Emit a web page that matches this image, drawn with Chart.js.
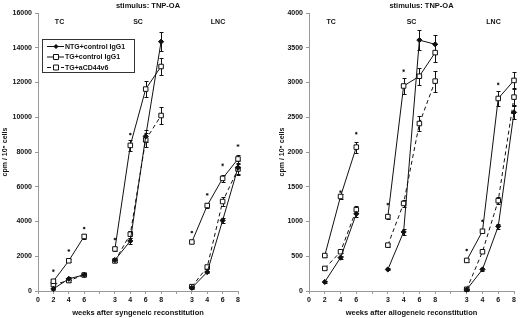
<!DOCTYPE html>
<html lang="en">
<head>
  <meta charset="UTF-8">
  <title>stimulus: TNP-OA</title>
  <script src="https://cdn.jsdelivr.net/npm/chart.js@4.4.1/dist/chart.umd.min.js"></script>
  <style>
    * { margin: 0; padding: 0; }
    body { background: #fff; width: 520px; height: 318px; overflow: hidden; }
    .panel { position: absolute; top: 0; width: 260px; height: 318px; }
    #left { left: 0; }
    #right { left: 260px; }
  </style>
</head>
<body>
  <div class="panel" id="left"><canvas id="syn" width="260" height="318"></canvas></div>
  <div class="panel" id="right"><canvas id="allo" width="260" height="318"></canvas></div>

  <script>
    // x axis: one slot per tick, blank slots between the groups
    const tickLabels = ['0', '2', '4', '6', '', '3', '4', '6', '8', '', '3', '4', '6', '8'];
    const groupNames = ['TC', 'SC', 'LNC'];
    const groupPos = [1.4, 6.5, 11.7];
    // TC weeks 2,4,6 / SC weeks 3,4,6,8 / LNC weeks 3,4,6,8
    const weekIdx = [1, 2, 3, 5, 6, 7, 8, 10, 11, 12, 13];
    const seriesNames = ['NTG+control IgG1', 'TG+control IgG1', 'TG+aCD44v6'];

    // syngeneic reconstitution (left)
    const synNTG    = [120, 700, 930,   1780, 2880, 8900, 14350,   180, 1090, 4060, 7100];
    const synTGctl  = [560, 1740, 3140, 2420, 8380, 11620, 12920,  2820, 4920, 6480, 7600];
    const synTGcd44 = [370, 600, 920,   1730, 3270, 8700, 10100,   250, 1380, 5150, 7020];
    const synErrNTG    = [60, 80, 60,   100, 150, 350, 550,  50, 80, 150, 400];
    const synErrTGctl  = [80, 80, 120,  120, 300, 450, 500,  80, 120, 200, 250];
    const synErrTGcd44 = [60, 60, 80,   80, 200, 400, 500,   50, 100, 250, 300];
    const synStarX = [1, 2, 3, 5, 6, 10, 11, 12, 13];
    const synStarY = [1170, 2330, 3620, 2990, 9030, 3390, 5560, 7260, 8370];

    // allogeneic reconstitution (right)
    const alloNTG    = [130, 480, 1110,  310, 850, 3610, 3550,   20, 310, 930, 2570];
    const alloTGctl  = [510, 1360, 2070, 1070, 2950, 3090, 3430, 440, 860, 2770, 3030];
    const alloTGcd44 = [325, 565, 1170,  660, 1260, 2410, 3020,  25, 565, 1300, 2790];
    const alloErrNTG    = [15, 20, 40,  15, 40, 140, 130,  10, 20, 40, 100];
    const alloErrTGctl  = [15, 40, 80,  30, 120, 120, 130, 20, 30, 110, 120];
    const alloErrTGcd44 = [15, 20, 50,  20, 50, 110, 150,  10, 20, 50, 130];
    const alloStarX = [2, 3, 5, 6, 10, 11, 12];
    const alloStarY = [1430, 2270, 1250, 3170, 590, 1010, 2980];

    const FONT = 'Liberation Sans, Arial, sans-serif';
    const INK = '#111';

    function buildSeries(vals, errs) {
      const pts = [], e = [];
      weekIdx.forEach((x, i) => {
        if (i > 0 && x - weekIdx[i - 1] > 1) { pts.push({x: x - 1, y: null}); e.push(null); }
        pts.push({x: x, y: vals[i]});
        e.push(errs[i]);
      });
      return {pts, e};
    }

    const styles = [
      {pointStyle: 'rectRot', pointRadius: 2.6, pointBackgroundColor: INK, borderDash: []},
      {pointStyle: 'rect', pointRadius: 3.2, pointBackgroundColor: '#fff', borderDash: []},
      {pointStyle: 'rect', pointRadius: 3.2, pointBackgroundColor: '#fff', borderDash: [4, 3]}
    ];

    function makeDatasets(vals, errs, starX, starY) {
      const sets = vals.map((v, k) => {
        const s = buildSeries(v, errs[k]);
        return Object.assign({
          label: seriesNames[k],
          data: s.pts,
          errors: s.e,
          borderColor: INK,
          borderWidth: 1,
          pointBorderColor: INK,
          pointBorderWidth: 1,
          spanGaps: false,
          tension: 0,
          clip: false
        }, styles[k]);
      });
      sets.push({
        label: 'p',
        data: starX.map((x, i) => ({x: x, y: starY[i]})),
        showLine: false,
        pointStyle: 'star',
        pointRadius: 1.3,
        borderColor: INK,
        borderWidth: 0.8,
        clip: false
      });
      return sets;
    }

    // error bars, drawn under the markers
    const errorBars = {
      id: 'errorBars',
      beforeDatasetsDraw(chart) {
        const ctx = chart.ctx, ys = chart.scales.y;
        ctx.save();
        ctx.strokeStyle = INK;
        ctx.lineWidth = 1;
        chart.data.datasets.forEach((ds, di) => {
          if (!ds.errors) return;
          chart.getDatasetMeta(di).data.forEach((pt, i) => {
            const e = ds.errors[i], v = ds.data[i].y;
            if (!e || v == null) return;
            const t = Math.round(ys.getPixelForValue(v + e)) + 0.5;
            const b = Math.round(ys.getPixelForValue(v - e)) + 0.5;
            const x = Math.round(pt.x) + 0.5;
            ctx.beginPath();
            ctx.moveTo(x, t); ctx.lineTo(x, b);
            ctx.moveTo(x - 2, t); ctx.lineTo(x + 2, t);
            ctx.moveTo(x - 2, b); ctx.lineTo(x + 2, b);
            ctx.stroke();
          });
        });
        ctx.restore();
      }
    };

    // heading, group names and the boxed legend
    const annotations = {
      id: 'annotations',
      afterDraw(chart, args, opts) {
        const ctx = chart.ctx, a = chart.chartArea, xs = chart.scales.x;
        ctx.save();
        ctx.fillStyle = INK;
        ctx.textAlign = 'center';
        ctx.textBaseline = 'middle';
        ctx.font = 'bold 7.5px ' + FONT;
        ctx.fillText('stimulus: TNP-OA', (a.left + a.right) / 2 + 10, 6);
        ctx.font = 'bold 7px ' + FONT;
        groupNames.forEach((g, i) => ctx.fillText(g, xs.getPixelForValue(groupPos[i]), a.top + 9));

        if (opts.legend) {
          const L = 42.5, T = 39.5, W = 92, H = 33;
          ctx.strokeStyle = '#333';
          ctx.lineWidth = 1;
          ctx.strokeRect(L, T, W, H);
          ctx.textAlign = 'left';
          seriesNames.forEach((name, k) => {
            const y = T + 7 + k * 10.5;
            const st = styles[k];
            ctx.beginPath();
            ctx.setLineDash(st.borderDash);
            ctx.strokeStyle = INK;
            ctx.moveTo(47, y); ctx.lineTo(64, y);
            ctx.stroke();
            ctx.setLineDash([]);
            ctx.beginPath();
            if (st.pointStyle === 'rectRot') {
              ctx.moveTo(56, y - 2.6); ctx.lineTo(58.6, y); ctx.lineTo(56, y + 2.6); ctx.lineTo(53.4, y);
              ctx.closePath();
              ctx.fillStyle = INK; ctx.fill();
            } else {
              ctx.rect(53.5, y - 2.5, 5, 5);
              ctx.fillStyle = '#fff'; ctx.fill();
              ctx.stroke();
            }
            ctx.fillStyle = INK;
            ctx.fillText(name, 65, y + 0.5);
          });
        }
        ctx.restore();
      }
    };

    function makeChart(id, vals, errs, starX, starY, yMax, yStep, yWidth, yTitlePad, padRight, xTitle, legend) {
      return new Chart(document.getElementById(id).getContext('2d'), {
        type: 'line',
        data: {datasets: makeDatasets(vals, errs, starX, starY)},
        options: {
          responsive: false,
          animation: false,
          devicePixelRatio: 1,
          layout: {padding: {top: 13, right: padRight, bottom: 0, left: 0}},
          plugins: {
            legend: {display: false},
            tooltip: {enabled: false},
            annotations: {legend: legend}
          },
          scales: {
            x: {
              type: 'linear',
              min: 0,
              max: 13,
              afterFit: s => { s.height = 27; },
              border: {display: true, color: '#999'},
              grid: {display: true, drawOnChartArea: false, drawTicks: true, tickLength: 3, color: '#999'},
              ticks: {
                stepSize: 1, autoSkip: false, maxRotation: 0, padding: 2,
                color: INK, font: {family: FONT, size: 7, weight: 'bold'},
                callback: v => tickLabels[v]
              },
              title: {
                display: true, text: xTitle, color: INK,
                font: {family: FONT, size: 7.5, weight: 'bold'},
                padding: {top: 2, bottom: 1}
              }
            },
            y: {
              min: 0,
              max: yMax,
              afterFit: s => { s.width = yWidth; },
              border: {display: true, color: '#999'},
              grid: {display: true, drawOnChartArea: false, drawTicks: true, tickLength: 3, color: '#999'},
              ticks: {
                stepSize: yStep, padding: 3, color: INK,
                font: {family: FONT, size: 7, weight: 'bold'},
                callback: v => String(v)
              },
              title: {
                display: true, text: 'cpm / 10⁵ cells', color: INK,
                font: {family: FONT, size: 7, weight: 'bold'},
                padding: {top: yTitlePad, bottom: 0}
              }
            }
          }
        },
        plugins: [errorBars, annotations]
      });
    }

    makeChart('syn',
      [synNTG, synTGctl, synTGcd44], [synErrNTG, synErrTGctl, synErrTGcd44],
      synStarX, synStarY, 16000, 2000, 38, 1, 22,
      'weeks after syngeneic reconstitution', true);

    makeChart('allo',
      [alloNTG, alloTGctl, alloTGcd44], [alloErrNTG, alloErrTGctl, alloErrTGcd44],
      alloStarX, alloStarY, 4000, 500, 49, 18, 6,
      'weeks after allogeneic reconstitution', false);
  </script>
</body>
</html>
